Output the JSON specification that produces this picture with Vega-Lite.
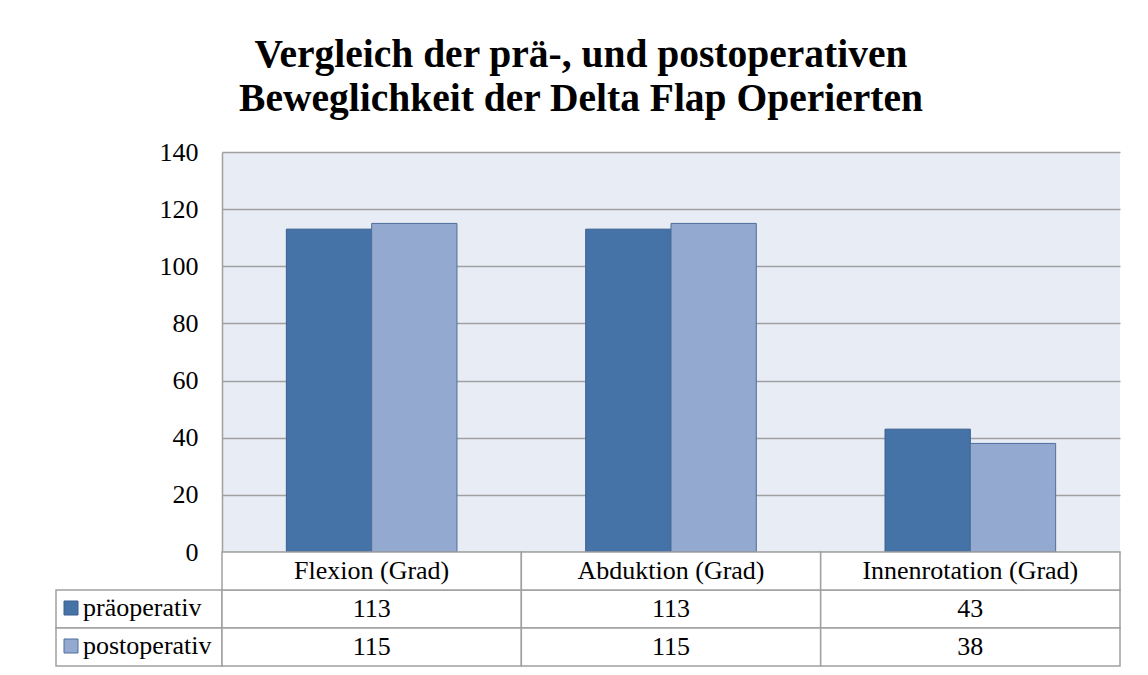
{
  "$schema": "https://vega.github.io/schema/vega-lite/v6.json",
  "padding": {"left": 55, "top": 34, "right": 29, "bottom": 8},
  "background": "white",
  "config": {"view": {"stroke": null}, "font": "Liberation Serif"},
  "title": {
    "text": ["Vergleich der prä-, und postoperativen", "Beweglichkeit der Delta Flap Operierten"],
    "font": "Liberation Serif", "fontSize": 39.5, "fontWeight": "bold", "color": "#000",
    "lineHeight": 44, "anchor": "middle", "offset": 20, "dx": -7
  },
  "data": {"values": [
    {"Kategorie": "Flexion (Grad)", "Zeitpunkt": "präoperativ", "Grad": 113},
    {"Kategorie": "Flexion (Grad)", "Zeitpunkt": "postoperativ", "Grad": 115},
    {"Kategorie": "Abduktion (Grad)", "Zeitpunkt": "präoperativ", "Grad": 113},
    {"Kategorie": "Abduktion (Grad)", "Zeitpunkt": "postoperativ", "Grad": 115},
    {"Kategorie": "Innenrotation (Grad)", "Zeitpunkt": "präoperativ", "Grad": 43},
    {"Kategorie": "Innenrotation (Grad)", "Zeitpunkt": "postoperativ", "Grad": 38}
  ]},
  "columns": 2,
  "spacing": 0,
  "bounds": "flush",
  "concat": [
    {
      "width": 166, "height": 400,
      "mark": {"type": "text"},
      "encoding": {"text": {"value": ""}}
    },
    {
      "width": 898, "height": 400,
      "view": {"fill": "#E8ECF4", "stroke": null},
      "mark": {"type": "bar", "strokeWidth": 1},
      "encoding": {
        "x": {"field": "Kategorie", "type": "nominal", "sort": ["Flexion (Grad)", "Abduktion (Grad)", "Innenrotation (Grad)"],
              "scale": {"paddingInner": 0.43, "paddingOuter": 0.215}, "axis": null},
        "xOffset": {"field": "Zeitpunkt", "type": "nominal", "sort": ["präoperativ", "postoperativ"], "scale": {"paddingInner": 0, "paddingOuter": 0}},
        "y": {"field": "Grad", "type": "quantitative", "scale": {"domain": [0, 140]},
              "axis": {"values": [0, 20, 40, 60, 80, 100, 120, 140], "grid": true, "gridColor": "#A0A0A0", "gridWidth": 1.5,
                       "domain": true, "domainColor": "#A0A0A0", "domainWidth": 1.5, "ticks": false,
                       "labelFont": "Liberation Serif", "labelFontSize": 26, "labelColor": "#000", "labelPadding": 24, "title": null}},
        "color": {"field": "Zeitpunkt", "type": "nominal",
                  "scale": {"domain": ["präoperativ", "postoperativ"], "range": ["#4572A7", "#93A9CF"]},
                  "legend": {"orient": "none", "legendX": 2, "legendY": 443, "title": null, "symbolType": "square",
                             "symbolSize": 196, "symbolStrokeColor": "#3A5F8E", "symbolStrokeWidth": 1,
                             "labelFont": "Liberation Serif", "labelFontSize": 26, "labelColor": "#000",
                             "labelOffset": -1, "rowPadding": 12, "padding": 0}},
        "stroke": {"field": "Zeitpunkt", "type": "nominal",
                   "scale": {"domain": ["präoperativ", "postoperativ"], "range": ["#3A5F8E", "#4E6F9E"]}, "legend": null}
      }
    },
    {
      "width": 166, "height": 114,
      "transform": [{"filter": "datum.Kategorie === 'Flexion (Grad)'"}],
      "mark": {"type": "rect", "fill": "white", "stroke": "#A0A0A0", "strokeWidth": 1.5},
      "encoding": {
        "y": {"field": "Zeitpunkt", "type": "nominal",
              "scale": {"domain": ["Kopf", "präoperativ", "postoperativ"], "paddingInner": 0, "paddingOuter": 0}, "axis": null}
      }
    },
    {
      "width": 898, "height": 114,
      "encoding": {
        "x": {"field": "Kategorie", "type": "nominal", "sort": ["Flexion (Grad)", "Abduktion (Grad)", "Innenrotation (Grad)"],
              "scale": {"paddingInner": 0, "paddingOuter": 0}, "axis": null}
      },
      "layer": [
        {
          "mark": {"type": "rect", "fill": "white", "stroke": "#A0A0A0", "strokeWidth": 1.5},
          "encoding": {"y": {"field": "Zeitpunkt", "type": "nominal",
                             "scale": {"domain": ["Kopf", "präoperativ", "postoperativ"], "paddingInner": 0, "paddingOuter": 0}, "axis": null}}
        },
        {
          "transform": [{"filter": "datum.Zeitpunkt === 'präoperativ'"}],
          "mark": {"type": "rect", "fill": "white", "stroke": "#A0A0A0", "strokeWidth": 1.5},
          "encoding": {"y": {"datum": "Kopf", "type": "nominal"}}
        },
        {
          "mark": {"type": "text", "font": "Liberation Serif", "fontSize": 26, "color": "#000"},
          "encoding": {"y": {"field": "Zeitpunkt", "type": "nominal"}, "text": {"field": "Grad", "type": "quantitative"}}
        },
        {
          "transform": [{"filter": "datum.Zeitpunkt === 'präoperativ'"}],
          "mark": {"type": "text", "font": "Liberation Serif", "fontSize": 26, "color": "#000"},
          "encoding": {"y": {"datum": "Kopf", "type": "nominal"}, "text": {"field": "Kategorie", "type": "nominal"}}
        }
      ]
    }
  ]
}
